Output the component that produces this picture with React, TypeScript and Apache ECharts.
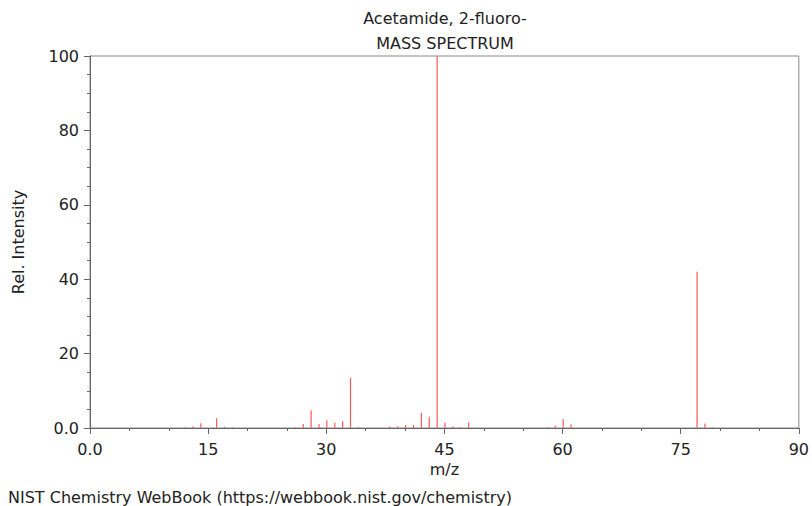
import React, { useEffect, useRef } from "react";
import * as echarts from "echarts";

const titleLines = ["Acetamide, 2-fluoro-", "MASS SPECTRUM"];
const footer = "NIST Chemistry WebBook (https://webbook.nist.gov/chemistry)";
const mz = [12, 13, 14, 16, 17, 18, 26, 27, 28, 29, 30, 31, 32, 33, 34, 38, 39, 40, 41, 42, 43, 44, 45, 46, 47, 48, 58, 59, 60, 61, 77, 78, 79];
const intensity = [0.2, 0.5, 1.3, 2.6, 0.3, 0.2, 0.2, 1.1, 4.8, 1.1, 2.1, 1.4, 1.8, 13.5, 0.2, 0.4, 0.5, 0.8, 0.8, 4.0, 3.0, 100, 1.5, 0.4, 0.2, 1.5, 0.2, 0.6, 2.4, 1.0, 42, 1.2, 0.2];

const FONT = "DejaVu Sans";
const FS = 16;

export default function App() {
  const ref = useRef<HTMLDivElement>(null);
  useEffect(() => {
    document.body.style.margin = "0";
    const chart = echarts.init(ref.current!, null, { renderer: "svg" });
    const data = mz.map((m, i) => [m, intensity[i]]);
    chart.setOption({
      animation: false,
      backgroundColor: "#fff",
      textStyle: { fontFamily: FONT },
      grid: {
        left: 90,
        right: 12,
        top: 56,
        bottom: 78,
        show: true,
        borderColor: "#888",
        borderWidth: 1,
        backgroundColor: "transparent",
      },
      xAxis: {
        type: "value",
        min: 0,
        max: 90,
        interval: 15,
        name: "m/z",
        nameLocation: "middle",
        nameGap: 33,
        nameTextStyle: { fontFamily: FONT, fontSize: FS, color: "#222" },
        axisLine: { show: true, onZero: false, lineStyle: { color: "#666", width: 1 } },
        axisTick: { show: true, length: 6, lineStyle: { color: "#666" } },
        minorTick: { show: true, splitNumber: 3, length: 3, lineStyle: { color: "#666" } },
        splitLine: { show: false },
        axisLabel: {
          fontFamily: FONT,
          fontSize: FS,
          color: "#222",
          margin: 13,
          formatter: (v: number) => (v === 0 ? "0.0" : String(v)),
        },
      },
      yAxis: {
        type: "value",
        min: 0,
        max: 100,
        interval: 20,
        name: "Rel. Intensity",
        nameLocation: "middle",
        nameGap: 64,
        nameRotate: 90,
        nameTextStyle: { fontFamily: FONT, fontSize: FS, color: "#222" },
        axisLine: { show: true, lineStyle: { color: "#666", width: 1 } },
        axisTick: { show: true, length: 6, lineStyle: { color: "#666" } },
        minorTick: { show: true, splitNumber: 4, length: 3, lineStyle: { color: "#666" } },
        splitLine: { show: false },
        axisLabel: {
          fontFamily: FONT,
          fontSize: FS,
          color: "#222",
          margin: 11,
          formatter: (v: number) => (v === 0 ? "0.0" : String(v)),
        },
      },
      series: [
        {
          type: "custom",
          data,
          clip: true,
          renderItem: (params: any, api: any) => {
            const x = api.value(0);
            const y = api.value(1);
            const p0 = api.coord([x, 0]);
            const p1 = api.coord([x, y]);
            return {
              type: "line",
              shape: { x1: p0[0] + 0.6, y1: p0[1], x2: p1[0] + 0.6, y2: p1[1] },
              style: { stroke: "#ff5a5a", lineWidth: 1.2 },
            };
          },
        },
      ],
      graphic: [
        {
          type: "text",
          x: 445,
          y: 18,
          style: { text: titleLines[0], fontFamily: FONT, fontSize: FS, fill: "#222", textAlign: "center", textVerticalAlign: "middle", align: "center", verticalAlign: "middle" },
        },
        {
          type: "text",
          x: 445,
          y: 43,
          style: { text: titleLines[1], fontFamily: FONT, fontSize: FS, fill: "#222", textAlign: "center", textVerticalAlign: "middle", align: "center", verticalAlign: "middle" },
        },
        {
          type: "text",
          x: 8,
          y: 497,
          style: { text: footer, fontFamily: FONT, fontSize: FS, fill: "#222", textVerticalAlign: "middle", verticalAlign: "middle" },
        },
      ],
    });
    return () => chart.dispose();
  }, []);
  return <div ref={ref} style={{ width: 812, height: 506 }} />;
}
